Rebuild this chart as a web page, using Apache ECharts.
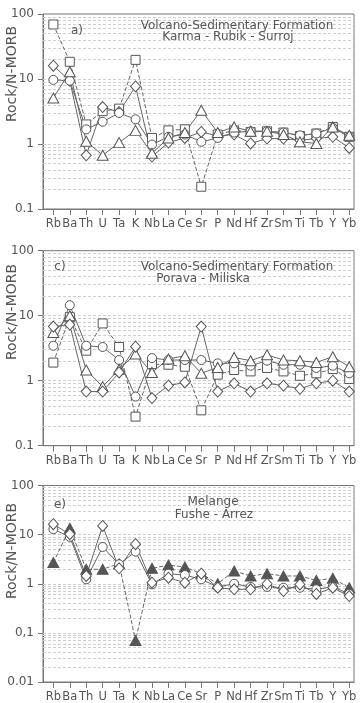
<!DOCTYPE html>
<html>
<head>
<meta charset="utf-8">
<title>Rock/N-MORB spider diagrams</title>
<script src="https://cdn.jsdelivr.net/npm/echarts@6/dist/echarts.min.js"></script>
<style>
  html, body { margin: 0; padding: 0; background: #fff; }
  #chart { width: 360px; height: 703px; }
</style>
</head>
<body>
<div id="chart"></div>
<script>
// Element order along the x axis
const elements = ['Rb','Ba','Th','U','Ta','K','Nb','La','Ce','Sr','P','Nd','Hf','Zr','Sm','Ti','Tb','Y','Yb'];

// y tick labels per panel, from the lowest decade upward
const yLabelsA = ['0.1', '1', '10', '100'];
const yLabelsC = ['0.1', '1', '10', '100'];
const yLabelsE = ['0.01', '0,1', '1', '10', '100'];

// a) Volcano-Sedimentary Formation, Karma - Rubik - Surroj
const karmaSquare   = [69, 18.4, 2.0, 3.2, 3.5, 19.7, 1.24, 1.62, 1.68, 0.22, 1.4, 1.62, 1.53, 1.57, 1.5, 1.33, 1.45, 1.83, 1.29];
const karmaDiamond  = [16, 9.4, 0.67, 3.7, 3.1, 7.7, 0.64, 1.05, 1.24, 1.53, 1.33, 1.4, 1.02, 1.21, 1.21, 1.14, 1.21, 1.29, 0.87];
const karmaCircle   = [9.7, 9.4, 1.68, 2.2, 3.0, 2.4, 0.98, 1.29, 1.4, 1.08, 1.24, 1.5, 1.57, 1.57, 1.5, 1.36, 1.45, 1.77, 1.29];
const karmaTriangle = [5.1, 12.9, 1.1, 0.67, 1.05, 1.62, 0.72, 1.24, 1.5, 3.3, 1.5, 1.83, 1.57, 1.57, 1.4, 1.08, 1.02, 1.83, 1.36];

// c) Volcano-Sedimentary Formation, Porava - Miliska
const poravaSquare   = [1.9, 9.5, 2.9, 7.6, 3.3, 0.28, 1.8, 1.76, 1.64, 0.35, 1.24, 1.46, 1.39, 1.57, 1.39, 1.19, 1.3, 1.51, 1.06];
const poravaCircle   = [3.45, 14.5, 3.45, 3.3, 2.08, 0.57, 2.23, 2.08, 2.08, 2.08, 1.85, 1.85, 1.7, 2.03, 1.76, 1.76, 1.57, 1.7, 1.3];
const poravaTriangle = [5.5, 10, 1.46, 0.81, 1.5, 2.57, 1.34, 2.16, 2.42, 1.3, 1.6, 2.28, 2.03, 2.5, 2.08, 2.03, 1.91, 2.34, 1.64];
const poravaDiamond  = [6.8, 7.3, 0.68, 0.68, 1.34, 3.33, 0.54, 0.84, 0.94, 6.8, 0.68, 0.91, 0.68, 0.91, 0.84, 0.75, 0.91, 1.0, 0.68];

// e) Melange, Fushe - Arrez
const fusheTriangle = [2.7, 13.5, 1.97, 1.97, 2.56, 0.07, 2.06, 2.4, 2.19, 1.6, 1.0, 1.82, 1.44, 1.6, 1.44, 1.44, 1.17, 1.29, 0.83];
const fusheCircle   = [12.9, 9.0, 1.23, 5.6, 2.49, 4.5, 0.97, 1.6, 1.5, 1.23, 0.86, 1.0, 0.86, 0.86, 0.83, 0.83, 0.77, 0.87, 0.62];
const fusheDiamond  = [16.3, 10.2, 1.44, 15, 2.06, 6.4, 1.05, 1.33, 1.05, 1.6, 0.83, 0.77, 0.77, 1.0, 0.71, 0.97, 0.62, 0.83, 0.56];

const FONT = '"DejaVu Sans", sans-serif';
const TEXT = '#555';
const AXIS = '#777';
const MARK = '#555';

const panels = [
  { top: 14,    height: 195,   ymin: 0.1,  ymax: 100, yLabels: yLabelsA, tag: 'a)',
    titleBox: [115, 15, 223, 40], tagBox: [70, 15, 14, 31],
    titleLines: [['Volcano-Sedimentary Formation', 237, 26], ['Karma - Rubik - Surroj', 228, 37]], tagPos: [77, 31],
    yName: 74,
    series: [
      { data: karmaSquare,   symbol: 'rect',     size: 9,  dashed: true },
      { data: karmaDiamond,  symbol: 'diamond',  size: [10, 11] },
      { data: karmaCircle,   symbol: 'circle',   size: 9 },
      { data: karmaTriangle, symbol: 'triangle', size: [11, 10] }
    ] },
  { top: 250.7, height: 195,   ymin: 0.1,  ymax: 100, yLabels: yLabelsC, tag: 'c)',
    titleBox: [102, 256, 236, 48], tagBox: [53, 256, 13, 30],
    titleLines: [['Volcano-Sedimentary Formation', 237, 267], ['Porava - Miliska', 203, 279]], tagPos: [60, 267],
    yName: 312,
    series: [
      { data: poravaSquare,   symbol: 'rect',     size: 9, dashed: true },
      { data: poravaCircle,   symbol: 'circle',   size: 9 },
      { data: poravaTriangle, symbol: 'triangle', size: [11, 10] },
      { data: poravaDiamond,  symbol: 'diamond',  size: [10, 11] }
    ] },
  { top: 485.5, height: 196.5, ymin: 0.01, ymax: 100, yLabels: yLabelsE, tag: 'e)',
    titleBox: [168, 491, 90, 36], tagBox: [53, 495, 14, 24],
    titleLines: [['Melange', 213, 502], ['Fushe - Arrez', 214, 515]], tagPos: [60, 505],
    yName: 551,
    series: [
      { data: fusheTriangle, symbol: 'triangle', size: [11, 10], dashed: true, filled: true },
      { data: fusheCircle,   symbol: 'circle',   size: 9 },
      { data: fusheDiamond,  symbol: 'diamond',  size: [10, 11] }
    ] }
];

const tickIdx = elements.map((_, i) => i);

// dashed reference lines at 1..9 of every decade inside the axis range
function gridValues(lo, hi) {
  const out = [];
  for (let e = Math.round(Math.log10(lo)); e < Math.round(Math.log10(hi)); e++) {
    for (let m = 1; m <= 9; m++) {
      const v = m * Math.pow(10, e);
      if (v > lo * 1.0001 && v < hi * 0.9999) out.push(v);
    }
  }
  return out;
}

const grid = [], xAxis = [], yAxis = [], series = [], graphic = [];

panels.forEach((p, k) => {
  grid.push({ left: 43, right: 6, top: p.top, height: p.height, show: true, borderColor: AXIS, borderWidth: 1, backgroundColor: 'transparent' });

  xAxis.push({
    type: 'value', gridIndex: k, min: -0.63, max: 18.29,
    axisLine: { show: true, onZero: false, lineStyle: { color: AXIS, width: 1 } },
    splitLine: { show: false },
    axisTick: { show: true, customValues: tickIdx, length: 6, lineStyle: { color: AXIS } },
    axisLabel: { customValues: tickIdx, formatter: v => elements[Math.round(v)], color: TEXT, fontSize: 11.5, fontFamily: FONT, margin: 9 }
  });

  const lowExp = Math.round(Math.log10(p.ymin));
  yAxis.push({
    type: 'log', logBase: 10, gridIndex: k, min: p.ymin, max: p.ymax,
    axisLine: { show: true, onZero: false, lineStyle: { color: AXIS, width: 1 } },
    splitLine: { show: false },
    minorTick: { show: false },
    axisTick: { show: true, length: 5, lineStyle: { color: AXIS } },
    axisLabel: { color: TEXT, fontSize: 12, fontFamily: FONT, margin: 9,
      formatter: v => p.yLabels[Math.round(Math.log10(v)) - lowExp] }
  });

  // reference lines
  series.push({
    type: 'line', xAxisIndex: k, yAxisIndex: k, data: [], z: 1, silent: true,
    markLine: {
      silent: true, symbol: 'none', animation: false,
      label: { show: false },
      lineStyle: { type: [3, 2], color: '#cfcfcf', width: 1 },
      data: gridValues(p.ymin, p.ymax).map(v => ({ yAxis: v }))
    }
  });

  p.series.forEach(s => {
    series.push({
      type: 'line', xAxisIndex: k, yAxisIndex: k, z: 10,
      data: s.data.map((v, i) => [i, v]),
      symbol: s.symbol, symbolSize: s.size, showAllSymbol: true,
      lineStyle: { color: '#666', width: 1, type: s.dashed ? [4, 2] : 'solid' },
      itemStyle: { color: s.filled ? MARK : '#fff', borderColor: MARK, borderWidth: 1 },
      emphasis: { disabled: true },
      animation: false
    });
  });

  // white boxes behind the panel captions
  [p.titleBox, p.tagBox].forEach(b => graphic.push({
    type: 'rect', z: 5, silent: true,
    shape: { x: b[0], y: b[1], width: b[2], height: b[3] },
    style: { fill: '#fff' }
  }));
  p.titleLines.forEach(t => graphic.push({
    type: 'text', z: 6, x: t[1], y: t[2],
    style: { text: t[0], fill: TEXT, font: '12px ' + FONT, align: 'center', verticalAlign: 'middle' }
  }));
  graphic.push({
    type: 'text', z: 6, x: p.tagPos[0], y: p.tagPos[1],
    style: { text: p.tag, fill: TEXT, font: '12px ' + FONT, align: 'center', verticalAlign: 'middle' }
  });
  graphic.push({
    type: 'text', z: 6, x: 12, y: p.yName, rotation: Math.PI / 2,
    style: { text: 'Rock/N-MORB', fill: TEXT, font: '14px ' + FONT, align: 'center', verticalAlign: 'middle' }
  });
});

const chart = echarts.init(document.getElementById('chart'), null, { renderer: 'canvas' });
chart.setOption({ animation: false, grid, xAxis, yAxis, series, graphic });
</script>
</body>
</html>
